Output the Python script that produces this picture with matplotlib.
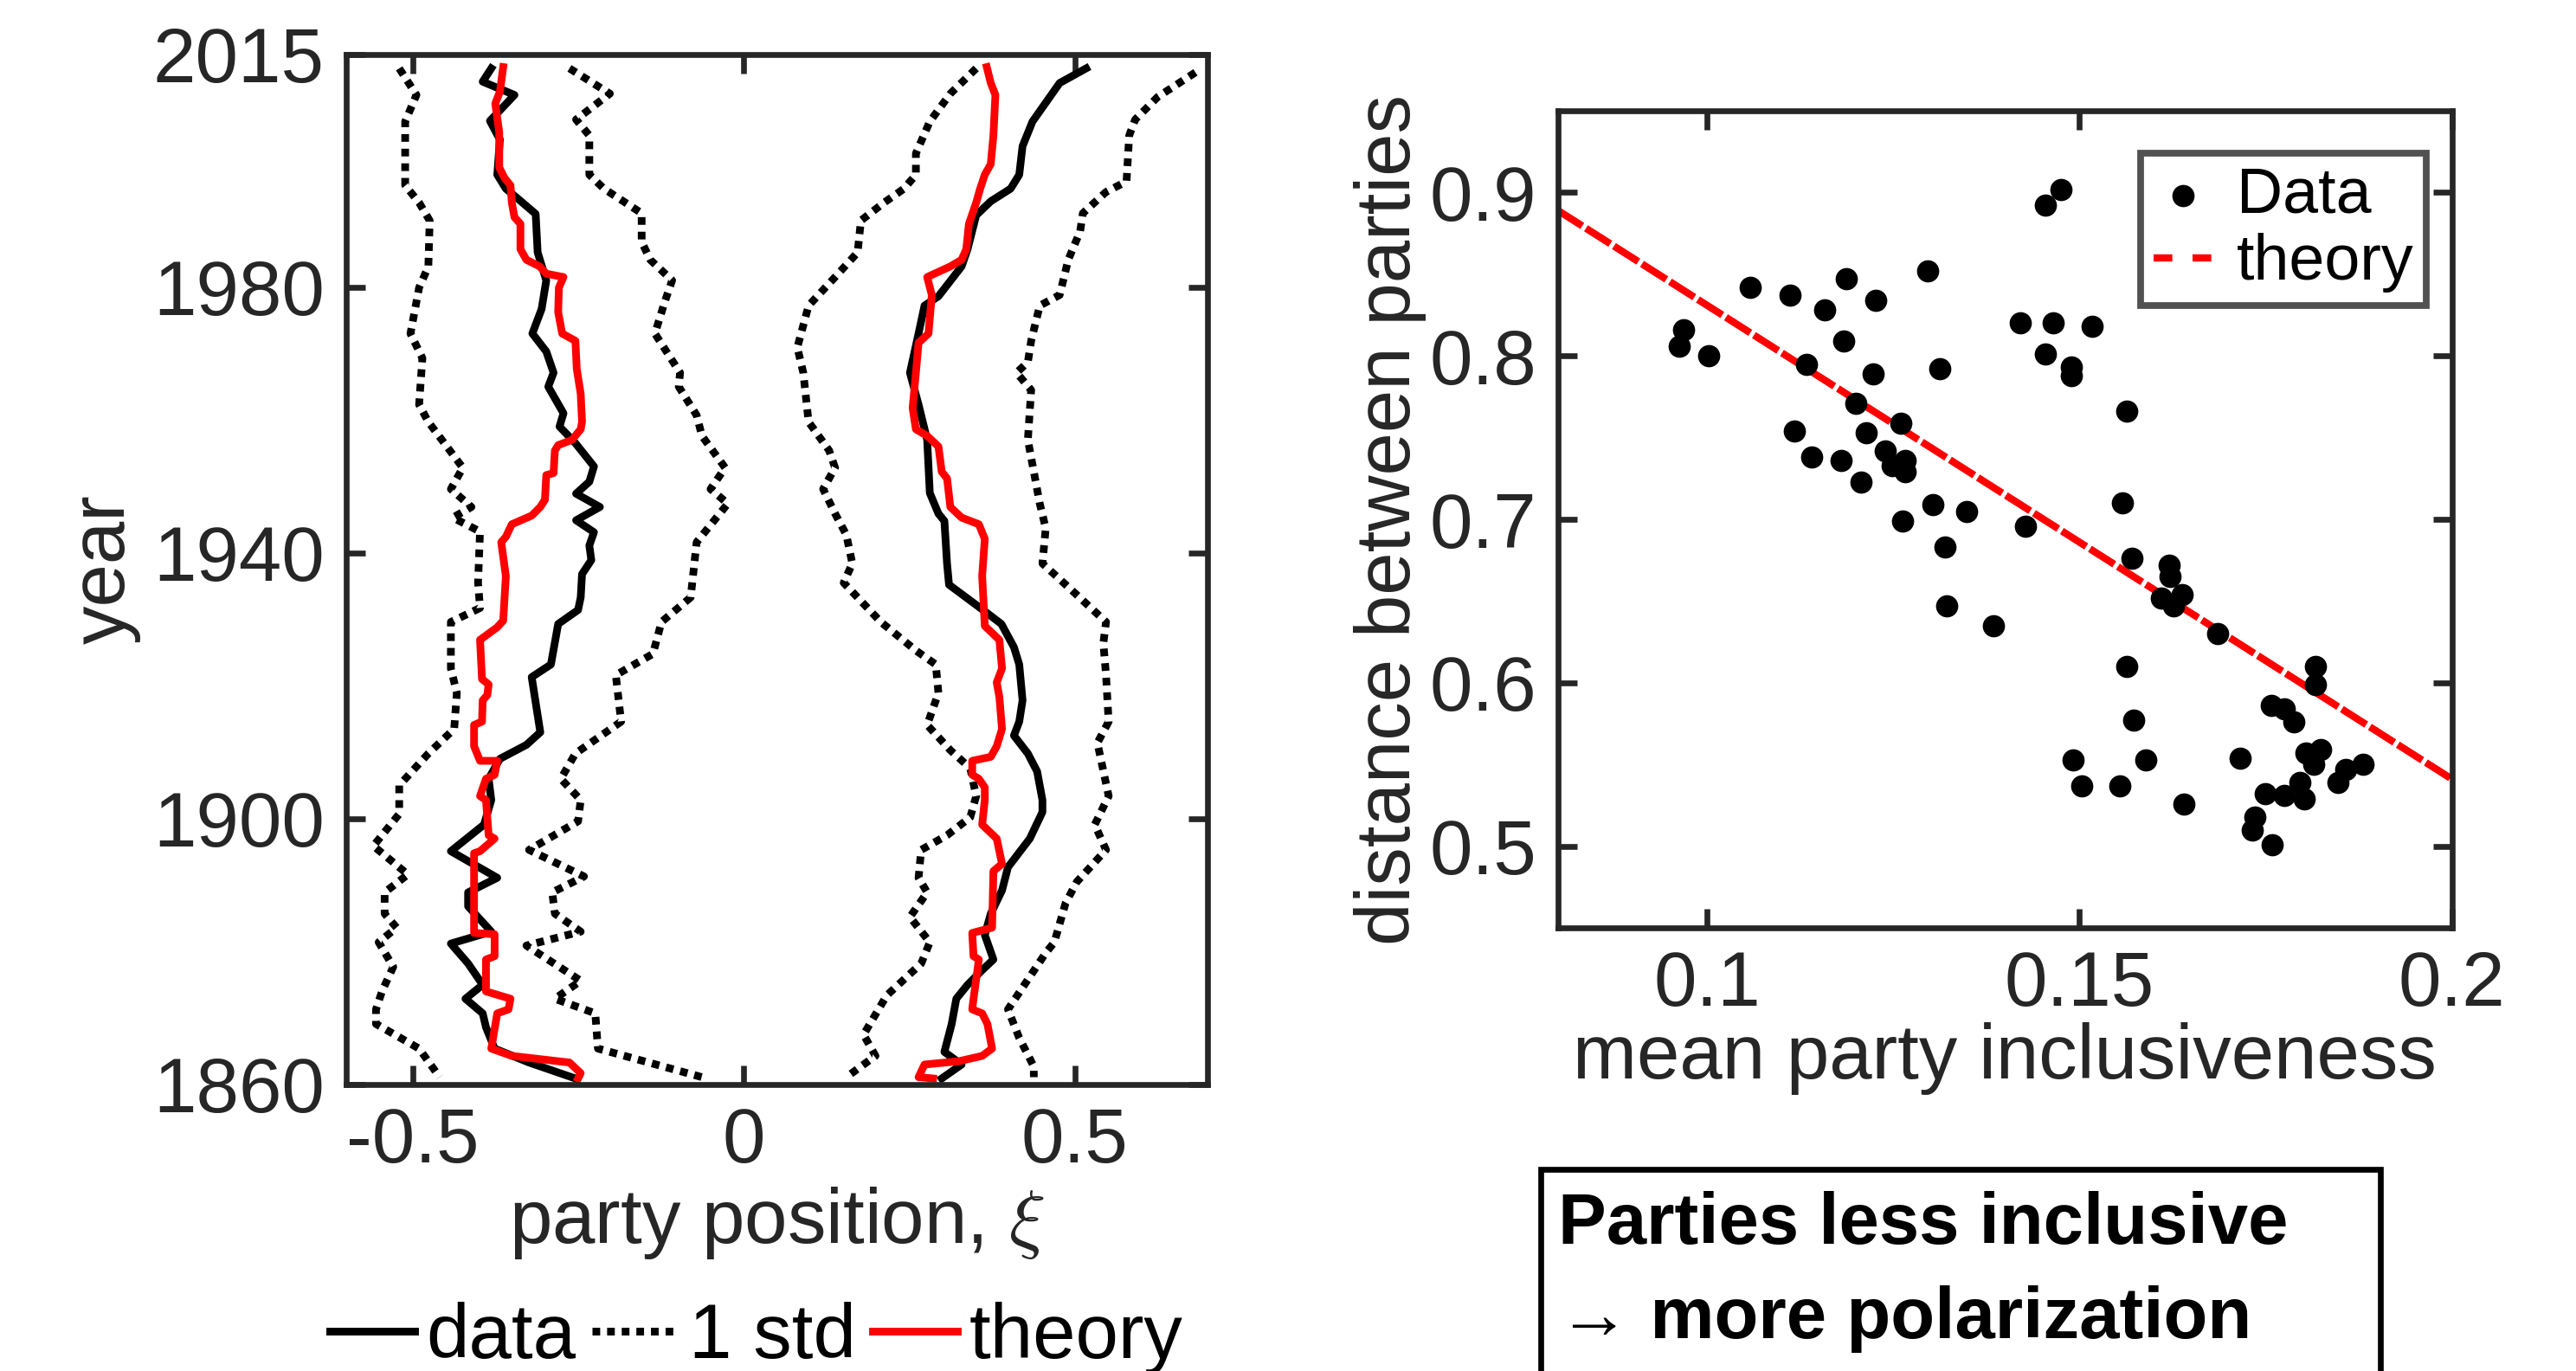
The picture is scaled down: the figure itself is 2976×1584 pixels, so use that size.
import numpy as np
import matplotlib
matplotlib.use("Agg")
import matplotlib.pyplot as plt
from matplotlib.lines import Line2D
from matplotlib.patches import Rectangle

plt.rcParams['font.family'] = ['Liberation Sans', 'DejaVu Sans']
plt.rcParams['mathtext.fontset'] = 'cm'

# ---- left panel: party positions over time ----
data_left_year = [2012.9, 2010.9, 2008.9, 2005.0, 2002.2, 1996.9, 1994.8, 1993.3, 1991.0, 1985.2,
                  1981.0, 1976.7, 1973.0, 1970.3, 1967.1, 1965.0, 1961.0, 1959.0, 1956.5, 1953.0,
                  1950.7, 1948.9, 1946.9, 1944.9, 1943.1, 1941.1, 1938.9, 1936.8, 1933.3, 1931.4,
                  1929.3, 1923.2, 1921.3, 1913.0, 1911.1, 1909.0, 1906.0, 1902.8, 1899.1, 1895.1,
                  1891.1, 1888.9, 1886.8, 1883.0, 1881.2, 1878.2, 1875.0, 1872.9, 1870.7, 1868.6,
                  1865.4, 1863.3, 1860.9]
data_left_pos = [-0.381, -0.394, -0.346, -0.383, -0.368, -0.372, -0.359, -0.341, -0.314, -0.311,
                 -0.298, -0.305, -0.319, -0.298, -0.287, -0.295, -0.272, -0.278, -0.254, -0.226,
                 -0.233, -0.253, -0.217, -0.253, -0.226, -0.233, -0.230, -0.244, -0.246, -0.250,
                 -0.280, -0.291, -0.320, -0.307, -0.328, -0.368, -0.385, -0.381, -0.392, -0.442,
                 -0.372, -0.416, -0.416, -0.381, -0.442, -0.416, -0.394, -0.420, -0.394, -0.389,
                 -0.376, -0.324, -0.254]

data_right_year = [2012.9, 2010.7, 2004.9, 2001.2, 1996.9, 1994.8, 1992.9, 1990.8, 1985.7, 1983.1,
                   1978.6, 1977.2, 1973.0, 1967.1, 1962.3, 1957.0, 1949.0, 1945.9, 1944.8, 1938.4,
                   1935.2, 1931.2, 1929.3, 1925.8, 1923.2, 1917.8, 1914.6, 1912.5, 1909.8, 1907.1,
                   1902.8, 1901.0, 1897.0, 1892.7, 1889.2, 1885.7, 1882.5, 1878.8, 1877.2, 1875.0,
                   1872.9, 1869.1, 1864.9, 1863.0, 1860.9]
data_right_pos = [0.517, 0.477, 0.436, 0.421, 0.416, 0.403, 0.373, 0.351, 0.338, 0.329,
                  0.294, 0.273, 0.264, 0.251, 0.264, 0.277, 0.281, 0.294, 0.303, 0.307,
                  0.310, 0.364, 0.389, 0.408, 0.416, 0.421, 0.416, 0.408, 0.429, 0.443,
                  0.451, 0.451, 0.432, 0.399, 0.390, 0.373, 0.364, 0.377, 0.360, 0.338,
                  0.321, 0.314, 0.303, 0.329, 0.299]

theory_left_year = [2013.1, 2009.4, 2007.6, 2003.3, 1998.0, 1996.4, 1995.3, 1992.7, 1990.5, 1989.5,
                    1985.7, 1984.1, 1983.1, 1982.0, 1981.5, 1979.9, 1976.2, 1973.0, 1971.9, 1967.7,
                    1963.9, 1959.7, 1958.6, 1957.0, 1956.2, 1955.4, 1952.0, 1951.7, 1948.0, 1946.9,
                    1945.6, 1944.3, 1942.4, 1941.6, 1936.5, 1929.8, 1928.8, 1926.9, 1921.0, 1920.2,
                    1918.6, 1917.8, 1914.6, 1914.1, 1910.9, 1908.7, 1908.7, 1906.6, 1906.0, 1903.4,
                    1902.8, 1897.5, 1897.0, 1895.1, 1894.8, 1882.8, 1882.6, 1879.3, 1878.8, 1874.0,
                    1872.9, 1871.3, 1870.7, 1865.4, 1864.3, 1863.3, 1861.7, 1860.9]
theory_left_pos = [-0.363, -0.368, -0.375, -0.369, -0.369, -0.361, -0.352, -0.350, -0.346, -0.337,
                   -0.337, -0.328, -0.308, -0.298, -0.272, -0.279, -0.280, -0.274, -0.254, -0.252,
                   -0.246, -0.244, -0.246, -0.259, -0.280, -0.285, -0.287, -0.298, -0.300, -0.307,
                   -0.320, -0.350, -0.359, -0.366, -0.359, -0.363, -0.372, -0.398, -0.395, -0.385,
                   -0.387, -0.394, -0.395, -0.407, -0.407, -0.398, -0.372, -0.376, -0.389, -0.398,
                   -0.389, -0.385, -0.376, -0.398, -0.407, -0.407, -0.376, -0.376, -0.389, -0.389,
                   -0.352, -0.355, -0.372, -0.381, -0.350, -0.263, -0.246, -0.250]

theory_right_year = [2013.1, 2010.7, 2008.9, 2002.8, 1998.5, 1996.9, 1994.8, 1992.7, 1989.5, 1985.7,
                     1984.1, 1983.1, 1981.5, 1978.8, 1973.0, 1971.6, 1967.1, 1961.8, 1958.6, 1957.6,
                     1956.0, 1952.2, 1951.2, 1946.9, 1945.3, 1944.3, 1942.1, 1936.5, 1929.0, 1926.9,
                     1922.6, 1920.5, 1918.3, 1913.5, 1910.9, 1909.3, 1908.7, 1906.6, 1906.0, 1904.7,
                     1902.8, 1899.1, 1897.0, 1893.2, 1892.1, 1883.6, 1882.8, 1879.3, 1878.8, 1872.9,
                     1871.3, 1870.7, 1869.1, 1865.4, 1864.3, 1863.5, 1863.0, 1861.1, 1860.9]
theory_right_pos = [0.367, 0.373, 0.380, 0.377, 0.373, 0.364, 0.357, 0.351, 0.340, 0.336,
                    0.329, 0.312, 0.277, 0.284, 0.279, 0.264, 0.260, 0.255, 0.260, 0.277,
                    0.294, 0.299, 0.307, 0.312, 0.329, 0.355, 0.364, 0.360, 0.364, 0.386,
                    0.390, 0.382, 0.386, 0.390, 0.382, 0.373, 0.345, 0.345, 0.355, 0.364,
                    0.364, 0.360, 0.382, 0.390, 0.377, 0.375, 0.345, 0.347, 0.355, 0.347,
                    0.345, 0.360, 0.368, 0.375, 0.360, 0.325, 0.273, 0.264, 0.286]

std_lo_left_year = [2012.9, 2008.9, 2004.9, 1995.3, 1992.7, 1990.0, 1983.1, 1979.9, 1973.0, 1969.3,
                    1962.3, 1959.7, 1952.8, 1949.6, 1946.9, 1945.3, 1943.2, 1935.5, 1931.7, 1929.6,
                    1922.6, 1918.9, 1913.5, 1909.8, 1905.0, 1900.7, 1895.9, 1891.6, 1888.9, 1885.7,
                    1883.6, 1881.4, 1877.7, 1874.0, 1871.3, 1869.1, 1865.4, 1861.1]
std_lo_left_pos = [-0.520, -0.494, -0.511, -0.511, -0.490, -0.474, -0.476, -0.490, -0.503, -0.485,
                   -0.490, -0.476, -0.424, -0.442, -0.411, -0.439, -0.398, -0.401, -0.398, -0.442,
                   -0.442, -0.433, -0.437, -0.476, -0.520, -0.520, -0.559, -0.507, -0.542, -0.542,
                   -0.524, -0.551, -0.529, -0.546, -0.555, -0.555, -0.490, -0.459]

std_hi_left_year = [2012.9, 2009.1, 2005.2, 2002.8, 1996.9, 1994.8, 1991.1, 1986.8, 1984.1, 1981.0,
                    1977.8, 1973.0, 1967.1, 1965.0, 1960.7, 1957.6, 1952.8, 1949.6, 1947.4, 1943.7,
                    1941.6, 1933.3, 1929.6, 1924.8, 1921.6, 1914.6, 1909.8, 1906.0, 1902.8, 1899.6,
                    1895.3, 1891.3, 1888.9, 1885.7, 1883.0, 1880.9, 1875.6, 1872.9, 1870.7, 1865.4,
                    1861.1]
std_hi_left_pos = [-0.263, -0.202, -0.253, -0.233, -0.233, -0.211, -0.154, -0.154, -0.141, -0.108,
                   -0.119, -0.134, -0.096, -0.098, -0.071, -0.063, -0.028, -0.050, -0.024, -0.054,
                   -0.071, -0.080, -0.124, -0.137, -0.193, -0.185, -0.254, -0.276, -0.246, -0.250,
                   -0.324, -0.241, -0.289, -0.285, -0.246, -0.328, -0.246, -0.285, -0.224, -0.220,
                   -0.063]

std_lo_right_year = [2012.9, 2009.1, 2004.9, 2000.1, 1996.9, 1994.8, 1992.7, 1990.0, 1985.2, 1981.5,
                     1977.2, 1970.9, 1967.1, 1959.7, 1955.4, 1952.8, 1949.6, 1945.9, 1942.7, 1938.4,
                     1935.5, 1929.6, 1925.3, 1923.2, 1918.9, 1914.1, 1910.3, 1907.6, 1903.4, 1900.2,
                     1897.5, 1895.3, 1891.1, 1888.9, 1885.2, 1881.4, 1878.2, 1873.4, 1867.5, 1864.3,
                     1861.1]
std_lo_right_pos = [0.351, 0.312, 0.281, 0.260, 0.260, 0.242, 0.212, 0.177, 0.172, 0.138,
                    0.098, 0.081, 0.090, 0.098, 0.129, 0.138, 0.120, 0.138, 0.155, 0.164,
                    0.151, 0.207, 0.260, 0.290, 0.294, 0.277, 0.312, 0.342, 0.351, 0.342,
                    0.307, 0.268, 0.264, 0.277, 0.251, 0.281, 0.268, 0.216, 0.181, 0.199,
                    0.155]

std_hi_right_year = [2012.3, 2008.6, 2005.2, 2002.8, 1995.9, 1994.3, 1991.1, 1988.4, 1984.1, 1978.8,
                     1977.2, 1971.9, 1968.7, 1967.1, 1964.5, 1957.0, 1952.2, 1947.4, 1943.7, 1938.4,
                     1934.4, 1929.6, 1926.4, 1921.6, 1914.6, 1911.4, 1903.4, 1899.1, 1895.3, 1890.5,
                     1887.3, 1881.4, 1879.8, 1871.3, 1867.0, 1862.7, 1861.1]
std_hi_right_pos = [0.682, 0.625, 0.591, 0.582, 0.578, 0.547, 0.512, 0.508, 0.490, 0.477,
                    0.447, 0.434, 0.429, 0.412, 0.434, 0.429, 0.438, 0.447, 0.456, 0.451,
                    0.495, 0.547, 0.543, 0.547, 0.551, 0.534, 0.551, 0.530, 0.547, 0.503,
                    0.486, 0.469, 0.456, 0.399, 0.416, 0.438, 0.438]

year_ticks = [1860, 1900, 1940, 1980, 2015]
pos_ticks = [-0.5, 0, 0.5]
pos_tick_labels = ['-0.5', '0', '0.5']

# ---- right panel: inclusiveness vs distance ----
inclusiveness = [0.1475, 0.1454, 0.0969, 0.0963, 0.1002, 0.1058, 0.1111, 0.1158, 0.1187, 0.1227,
                 0.1296, 0.1184, 0.1421, 0.1465, 0.1517, 0.1454, 0.1489, 0.1489, 0.1133, 0.1223,
                 0.1312, 0.1563, 0.1200, 0.1260, 0.1117, 0.1214, 0.1239, 0.1266, 0.1248, 0.1266,
                 0.1141, 0.1180, 0.1207, 0.1303, 0.1349, 0.1263, 0.1428, 0.1319, 0.1557, 0.1570,
                 0.1620, 0.1622, 0.1638, 0.1610, 0.1626, 0.1322, 0.1385, 0.1685, 0.1563, 0.1817,
                 0.1817, 0.1757, 0.1775, 0.1788, 0.1573, 0.1491, 0.1589, 0.1716, 0.1804, 0.1824,
                 0.1814, 0.1857, 0.1880, 0.1847, 0.1503, 0.1554, 0.1796, 0.1749, 0.1775, 0.1802,
                 0.1640, 0.1735, 0.1732, 0.1759]
distance = [0.902, 0.892, 0.816, 0.806, 0.800, 0.842, 0.837, 0.828, 0.847, 0.834,
            0.852, 0.809, 0.820, 0.820, 0.818, 0.801, 0.793, 0.788, 0.795, 0.789,
            0.792, 0.766, 0.771, 0.759, 0.754, 0.753, 0.742, 0.736, 0.733, 0.729,
            0.738, 0.736, 0.723, 0.709, 0.705, 0.699, 0.696, 0.683, 0.710, 0.676,
            0.672, 0.665, 0.654, 0.652, 0.647, 0.647, 0.635, 0.630, 0.610, 0.610,
            0.599, 0.586, 0.584, 0.576, 0.577, 0.553, 0.553, 0.554, 0.557, 0.559,
            0.550, 0.547, 0.550, 0.539, 0.537, 0.537, 0.539, 0.532, 0.531, 0.529,
            0.526, 0.518, 0.510, 0.501]
theory_intercept = 1.121
theory_slope = -2.9

incl_ticks = [0.1, 0.15, 0.2]
incl_tick_labels = ['0.1', '0.15', '0.2']
dist_ticks = [0.5, 0.6, 0.7, 0.8, 0.9]

FS = 32
dark = '#262626'
dotted = (0, (1.0, 0.9))

fig = plt.figure(figsize=(14.88, 7.92), dpi=200)


def style_axes(ax):
    for s in ax.spines.values():
        s.set_linewidth(2.4)
        s.set_color(dark)
    ax.tick_params(direction='in', length=8, width=2.4, color=dark,
                   labelsize=FS, labelcolor=dark, top=True, right=True, pad=9)


# left panel
ax1 = fig.add_axes([0.1344, 0.2090, 0.3343, 0.7513])
lw = 3.2
ax1.plot(std_lo_left_pos, std_lo_left_year, color='black', lw=lw, ls=dotted)
ax1.plot(std_hi_left_pos, std_hi_left_year, color='black', lw=lw, ls=dotted)
ax1.plot(std_lo_right_pos, std_lo_right_year, color='black', lw=lw, ls=dotted)
ax1.plot(std_hi_right_pos, std_hi_right_year, color='black', lw=lw, ls=dotted)
ax1.plot(data_left_pos, data_left_year, color='black', lw=lw)
ax1.plot(data_right_pos, data_right_year, color='black', lw=lw)
ax1.plot(theory_left_pos, theory_left_year, color='#ff0000', lw=lw)
ax1.plot(theory_right_pos, theory_right_year, color='#ff0000', lw=lw)
ax1.set_xlim(-0.6, 0.7)
ax1.set_ylim(1860, 2015)
ax1.set_xticks(pos_ticks)
ax1.set_xticklabels(pos_tick_labels)
ax1.set_yticks(year_ticks)
style_axes(ax1)
ax1.set_xlabel(r'party position, $\xi$', fontsize=FS, color=dark, labelpad=2.5)
ax1.set_ylabel('year', fontsize=FS, color=dark, labelpad=5)

handles = [Line2D([], [], color='black', lw=lw),
           Line2D([], [], color='black', lw=lw, ls=dotted),
           Line2D([], [], color='#ff0000', lw=lw)]
fig.legend(handles, ['data', '1 std', 'theory'], loc='center', ncol=3,
           bbox_to_anchor=(0.2935, 0.024), frameon=False, fontsize=FS,
           handlelength=1.1, handletextpad=0.15, columnspacing=0.22, borderaxespad=0)

# right panel
ax2 = fig.add_axes([0.6048, 0.3232, 0.3471, 0.5960])
ax2.scatter(inclusiveness, distance, s=68, color='black', zorder=3, label='Data')
xline = np.array([0.08, 0.2])
ax2.plot(xline, theory_intercept + theory_slope * xline, color='#ff0000', lw=3,
         ls=(0, (4, 0.6)), label='theory')
ax2.set_xlim(0.08, 0.2)
ax2.set_ylim(0.45, 0.95)
ax2.set_xticks(incl_ticks)
ax2.set_xticklabels(incl_tick_labels)
ax2.set_yticks(dist_ticks)
ax2.set_yticklabels(['0.5', '0.6', '0.7', '0.8', '0.9'])
style_axes(ax2)
ax2.set_xlabel('mean party inclusiveness', fontsize=FS, color=dark, labelpad=0)
ax2.set_ylabel('distance between parties', fontsize=FS, color=dark, labelpad=1)
leg = ax2.legend(loc='upper right', bbox_to_anchor=(0.9419, 0.8883),
                 bbox_transform=fig.transFigure, fontsize=26.5, frameon=True,
                 fancybox=False, handlelength=0.92, handletextpad=0.38, borderpad=0.2,
                 labelspacing=0.12, borderaxespad=0, scatterpoints=1)
leg.get_frame().set_edgecolor(dark)
leg.get_frame().set_linewidth(2.8)
leg.get_lines()[0].set_linestyle((0, (2.6, 2.8)))

# annotation box, clipped by the bottom of the figure
fig.patches.append(Rectangle((0.598, -0.05), 0.326, 0.197, transform=fig.transFigure,
                             fill=False, edgecolor='black', lw=2.4))
fig.text(0.605, 0.107, 'Parties less inclusive', fontsize=FS - 2, fontweight='bold',
         va='center', ha='left')
fig.text(0.605, 0.038, '\u2192 more polarization', fontsize=FS - 2,
         fontweight='bold', va='center', ha='left')

fig.savefig('out.png', dpi=200)
